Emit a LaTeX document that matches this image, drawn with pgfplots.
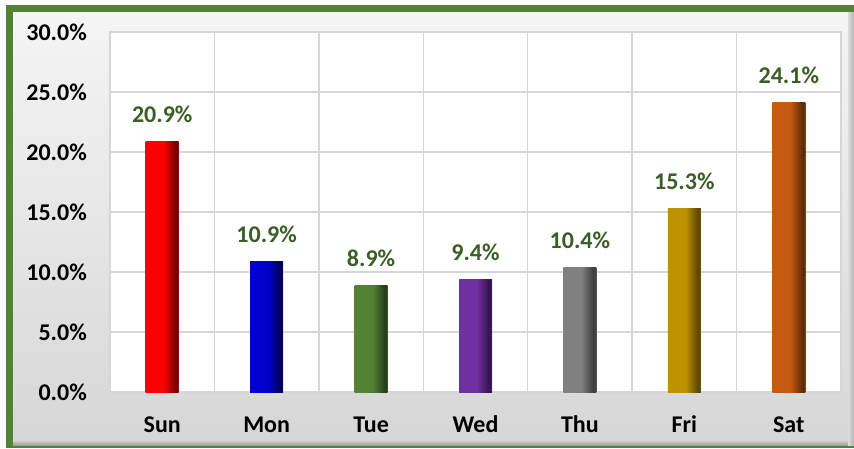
\documentclass[border=0pt]{standalone}
\usepackage{pgfplots}
\pgfplotsset{compat=1.18}
\usepackage{fontspec}
\setmainfont{Carlito}
\pgfkeys{/pgf/number format/assume math mode=true}
\definecolor{frameG}{HTML}{548235}
\definecolor{lblG}{HTML}{3B5E27}
\definecolor{gridG}{HTML}{D6D6D6}
\definecolor{cA}{RGB}{255,0,0}\definecolor{dA}{RGB}{120,0,0}
\definecolor{cB}{RGB}{0,0,204}\definecolor{dB}{RGB}{0,0,90}
\definecolor{cC}{RGB}{84,130,53}\definecolor{dC}{RGB}{40,64,25}
\definecolor{cD}{RGB}{112,48,160}\definecolor{dD}{RGB}{55,22,80}
\definecolor{cE}{RGB}{128,128,128}\definecolor{dE}{RGB}{64,64,64}
\definecolor{cF}{RGB}{191,144,0}\definecolor{dF}{RGB}{95,72,0}
\definecolor{cG}{RGB}{197,90,17}\definecolor{dG}{RGB}{100,45,8}
\newcommand\barshade[3]{\pgfdeclarehorizontalshading{#1}{100bp}{color(0bp)=(#2); color(25bp)=(#2); color(52bp)=(#2); color(70bp)=(#3); color(73bp)=(#3); color(75bp)=(#3!85!white); color(100bp)=(#3!85!white)}}
\barshade{sA}{cA}{dA}
\barshade{sB}{cB}{dB}
\barshade{sC}{cC}{dC}
\barshade{sD}{cD}{dD}
\barshade{sE}{cE}{dE}
\barshade{sF}{cF}{dF}
\barshade{sG}{cG}{dG}
\begin{document}
\begin{tikzpicture}[x=1pt,y=1pt]
\useasboundingbox (0,0) rectangle (854,448);
\clip (0,0) rectangle (854,448);
\fill[white] (0,0) rectangle (854,448);
\fill[frameG] (6,0) rectangle (860,443);
\shade[top color=white!96!black, bottom color=white!84!black] (13,3) rectangle (860,435);
\shade[top color=white!84!black, bottom color=white!62!black] (13,3) rectangle (860,8);
\shade[left color=white!86!black, right color=white!70!black] (848,3) rectangle (854,435);
\begin{axis}[
  at={(110pt,56pt)}, anchor=south west,
  scale only axis, width=731pt, height=360pt,
  xmin=-0.5, xmax=6.5, ymin=0, ymax=30,
  /pgf/number format/assume math mode=true,
  axis background/.style={fill=white},
  axis line style={gridG, line width=1.4pt},
  xtick={0,...,6},
  xticklabels={Sun,Mon,Tue,Wed,Thu,Fri,Sat},
  minor xtick={-0.5,0.5,...,6.5},
  ytick={0,5,...,30},
  yticklabel={\pgfmathprintnumber[fixed,fixed zerofill,precision=1,assume math mode=true]{\tick}\%},
  major tick length=0pt, minor tick length=0pt,
  ymajorgrids, xminorgrids,
  grid style={gridG, line width=1.4pt},
  tick label style={font=\fontsize{24}{28}\selectfont\bfseries, text=black, inner sep=0pt},
  yticklabel style={anchor=east, xshift=-23pt},
  xticklabel style={anchor=base, yshift=-40pt},
  nodes near coords={\pgfmathprintnumber[fixed,fixed zerofill,precision=1,assume math mode=true]{\pgfplotspointmeta}\%},
  every node near coord/.append style={font=\fontsize{24}{28}\selectfont\bfseries, text=lblG, anchor=base, inner sep=0pt, yshift=19pt},
  clip=false,
]
\addplot[ybar, bar width=33pt, bar shift=0pt, draw=none, shade, shading=sA] coordinates {(0,20.9)};
\addplot[ybar, bar width=33pt, bar shift=0pt, draw=none, shade, shading=sB] coordinates {(1,10.9)};
\addplot[ybar, bar width=33pt, bar shift=0pt, draw=none, shade, shading=sC] coordinates {(2,8.9)};
\addplot[ybar, bar width=33pt, bar shift=0pt, draw=none, shade, shading=sD] coordinates {(3,9.4)};
\addplot[ybar, bar width=33pt, bar shift=0pt, draw=none, shade, shading=sE] coordinates {(4,10.4)};
\addplot[ybar, bar width=33pt, bar shift=0pt, draw=none, shade, shading=sF] coordinates {(5,15.3)};
\addplot[ybar, bar width=33pt, bar shift=0pt, draw=none, shade, shading=sG] coordinates {(6,24.1)};
\end{axis}
\end{tikzpicture}
\end{document}
